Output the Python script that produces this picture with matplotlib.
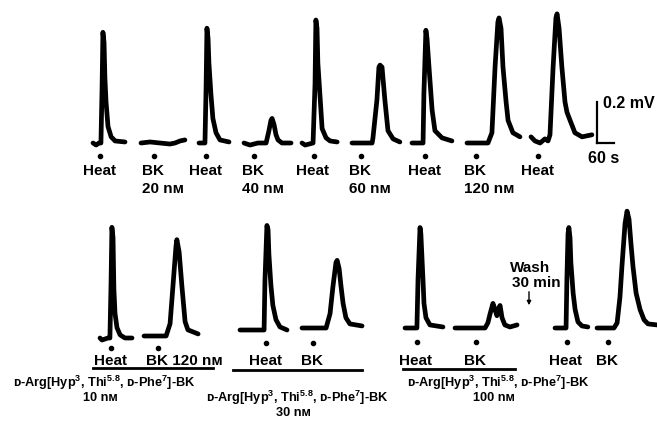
import matplotlib
matplotlib.use("Agg")
import matplotlib.pyplot as plt

plt.rcParams["mathtext.fontset"] = "custom"
plt.rcParams["mathtext.rm"] = "Liberation Sans:bold"
plt.rcParams["mathtext.it"] = "Liberation Sans:bold"
plt.rcParams["mathtext.bf"] = "Liberation Sans:bold"
plt.rcParams["mathtext.default"] = "rm"

# scale of the recording (pixels per unit), read from the 60 s / 0.2 mV bars
PX_PER_S = 17 / 60
PX_PER_MV = 41 / 0.2

# --- traces: time (s) from start of sweep, amplitude (mV) above baseline ---
heat1_t = [0, 11, 21, 28, 32, 35, 39, 42, 46, 53, 64, 78, 113]
heat1_v = [0, -0.01, 0, 0, 0.27, 0.54, 0.49, 0.32, 0.20, 0.08, 0.03, 0.01, 0.005]
bk20_t = [0, 32, 67, 102, 120, 138, 155]
bk20_v = [0, 0.005, 0, -0.005, 0, 0.01, 0.015]
heat2_t = [0, 21, 25, 28, 32, 35, 42, 49, 60, 74, 106]
heat2_v = [0, 0, 0.27, 0.56, 0.51, 0.39, 0.24, 0.12, 0.05, 0.015, 0.005]
bk40_t = [0, 21, 49, 78, 88, 95, 99, 106, 113, 120, 134, 166]
bk40_v = [0, -0.01, 0, 0, 0.06, 0.11, 0.12, 0.09, 0.04, 0.015, 0, 0]
heat3_t = [0, 11, 39, 46, 49, 53, 56, 64, 71, 85, 99, 124]
heat3_v = [0, -0.01, 0, 0.29, 0.60, 0.56, 0.39, 0.22, 0.07, 0.025, 0.01, 0.005]
bk60_t = [0, 71, 74, 88, 95, 99, 106, 116, 127, 145, 169]
bk60_v = [0, 0, 0.025, 0.21, 0.37, 0.38, 0.37, 0.21, 0.06, 0.02, 0.005]
heat4_t = [0, 39, 42, 49, 53, 60, 71, 81, 106, 141]
heat4_v = [0, 0, 0.24, 0.55, 0.51, 0.37, 0.16, 0.06, 0.025, 0.01]
bk120_t = [0, 74, 88, 99, 109, 113, 120, 127, 138, 145, 162, 187]
bk120_v = [0, 0, 0.05, 0.37, 0.59, 0.61, 0.56, 0.37, 0.20, 0.11, 0.05, 0.03]
heat5_t = [0, 14, 32, 49, 60, 67, 78, 88, 92, 99, 109, 120, 127, 138, 155, 180, 215]
heat5_v = [0.03, 0.01, 0, 0.02, 0.01, 0.04, 0.37, 0.61, 0.63, 0.56, 0.37, 0.20,
           0.15, 0.11, 0.05, 0.03, 0.04]

a10_heat_t = [0, 7, 28, 35, 39, 42, 46, 49, 53, 60, 71, 88, 113]
a10_heat_v = [0, -0.01, 0, 0, 0.27, 0.54, 0.49, 0.24, 0.12, 0.05, 0.015, 0, 0]
a10_bk_t = [0, 78, 92, 102, 113, 116, 124, 134, 145, 155, 191]
a10_bk_v = [0, 0, 0.06, 0.24, 0.44, 0.47, 0.41, 0.24, 0.07, 0.03, 0.01]
a30_heat_t = [0, 85, 88, 95, 99, 102, 109, 116, 127, 141, 166]
a30_heat_v = [0, 0, 0.24, 0.51, 0.49, 0.37, 0.22, 0.12, 0.05, 0.015, 0]
a30_bk_t = [0, 85, 99, 109, 120, 124, 131, 138, 145, 155, 169, 212]
a30_bk_v = [0, 0, 0.07, 0.20, 0.32, 0.33, 0.29, 0.20, 0.12, 0.05, 0.02, 0.01]
a100_heat_t = [0, 42, 46, 53, 56, 60, 64, 67, 74, 88, 134]
a100_heat_v = [0, 0, 0.24, 0.49, 0.46, 0.34, 0.22, 0.12, 0.05, 0.015, 0.005]
a100_bk_t = [0, 106, 116, 124, 134, 141, 148, 155, 159, 166, 176, 194, 219]
a100_bk_v = [0, 0, 0.025, 0.07, 0.12, 0.09, 0.06, 0.10, 0.11, 0.05, 0.015, 0.005, 0.015]
wash_heat_t = [0, 39, 42, 46, 49, 53, 56, 64, 71, 81, 95, 116]
wash_heat_v = [0, 0, 0.24, 0.46, 0.49, 0.44, 0.32, 0.17, 0.09, 0.03, 0.01, 0.005]
wash_bk_t = [0, 60, 71, 81, 88, 99, 106, 113, 120, 127, 138, 152, 166, 180, 212]
wash_bk_v = [0, 0, 0.025, 0.15, 0.30, 0.51, 0.57, 0.53, 0.41, 0.30, 0.17, 0.09,
             0.04, 0.02, 0.015]

traces = [
    (heat1_t, heat1_v), (bk20_t, bk20_v), (heat2_t, heat2_v), (bk40_t, bk40_v),
    (heat3_t, heat3_v), (bk60_t, bk60_v), (heat4_t, heat4_v), (bk120_t, bk120_v),
    (heat5_t, heat5_v),
    (a10_heat_t, a10_heat_v), (a10_bk_t, a10_bk_v),
    (a30_heat_t, a30_heat_v), (a30_bk_t, a30_bk_v),
    (a100_heat_t, a100_heat_v), (a100_bk_t, a100_bk_v),
    (wash_heat_t, wash_heat_v), (wash_bk_t, wash_bk_v),
]
stim_times = [25, 46, 25, 35, 42, 32, 46, 32, 25, 39, 49, 92, 39, 42, 74, 42, 39]
stim_kind = ["Heat", "BK", "Heat", "BK", "Heat", "BK", "Heat", "BK", "Heat",
             "Heat", "BK 120 nм", "Heat", "BK", "Heat", "BK", "Heat", "BK"]
conc_labels = ["", "20 nм", "", "40 nм", "", "60 nм", "", "120 nм", "",
               "", "", "", "", "", "", "", ""]
antagonist_conc = ["10 nм", "30 nм", "100 nм"]
antagonist_name = "ᴅ-Arg[Hyp$^{3}$, Thi$^{5.8}$, ᴅ-Phe$^{7}$]-BK"

# layout: sweep start (px) and baseline (px) of each trace
trace_x0 = [93, 141, 199, 244, 302, 352, 412, 467, 531,
            100, 144, 240, 302, 405, 455, 555, 597]
trace_base = [143] * 9 + [338, 336, 330, 328, 328, 328, 328, 328]
label_base = [175] * 9 + [365] * 8
dot_y = [156] * 9 + [348, 348, 343, 343, 342, 342, 342, 342]

FAMILY = ["Liberation Sans", "DejaVu Sans"]

fig = plt.figure(figsize=(6.57, 4.23), dpi=100)
ax = fig.add_axes([0, 0, 1, 1])
ax.set_xlim(0, 657)
ax.set_ylim(423, 0)
ax.axis("off")

for i, (t, v) in enumerate(traces):
    x = [trace_x0[i] + ti * PX_PER_S for ti in t]
    y = [trace_base[i] - vi * PX_PER_MV for vi in v]
    ax.plot(x, y, color="black", lw=3.4, solid_joinstyle="round",
            solid_capstyle="round")
    sx = trace_x0[i] + stim_times[i] * PX_PER_S
    ax.plot([sx], [dot_y[i]], "o", color="black", ms=3)
    if stim_kind[i] == "Heat":
        ax.text(sx - 1, label_base[i], "Heat", ha="center", va="baseline",
                fontsize=11, fontweight="bold", family=FAMILY)
    else:
        ax.text(sx - 12, label_base[i], stim_kind[i], ha="left", va="baseline",
                fontsize=11, fontweight="bold", family=FAMILY)
        if conc_labels[i]:
            ax.text(sx - 12, label_base[i] + 18, conc_labels[i], ha="left",
                    va="baseline", fontsize=11, fontweight="bold", family=FAMILY)

# scale bars
sb_x, sb_y = 597, 143
ax.plot([sb_x, sb_x], [sb_y, sb_y - 0.2 * PX_PER_MV], color="black", lw=1.6)
ax.plot([sb_x, sb_x + 60 * PX_PER_S], [sb_y, sb_y], color="black", lw=1.6)
ax.text(603, 108, "0.2 mV", ha="left", va="baseline", fontsize=11.5,
        fontweight="bold", family=FAMILY)
ax.text(604, 163, "60 s", ha="center", va="baseline", fontsize=11.5,
        fontweight="bold", family=FAMILY)

# antagonist application bars and labels
bar_spans = [(93, 213, 368), (233, 362, 370), (403, 515, 369)]
name_pos = [(104, 387), (297, 402), (498, 387)]
conc_pos = [(100, 401), (293, 416), (494, 401)]
for (x1, x2, yb), (nx, ny), (cx, cy), conc in zip(bar_spans, name_pos, conc_pos,
                                                   antagonist_conc):
    ax.plot([x1, x2], [yb, yb], color="black", lw=2)
    ax.text(nx, ny, antagonist_name, ha="center", va="baseline", fontsize=9.2,
            fontweight="bold", family=FAMILY)
    ax.text(cx, cy, conc, ha="center", va="baseline", fontsize=9.2,
            fontweight="bold", family=FAMILY)

# wash annotation
ax.text(530, 272, "Wash", ha="center", va="baseline", fontsize=11,
        fontweight="bold", family=FAMILY)
ax.text(536, 287, "30 min", ha="center", va="baseline", fontsize=11,
        fontweight="bold", family=FAMILY)
ax.annotate("", xy=(529, 308), xytext=(529, 289),
            arrowprops=dict(arrowstyle="-|>", color="black", lw=1,
                            mutation_scale=6))

fig.savefig("out.png", dpi=100, facecolor="white")
